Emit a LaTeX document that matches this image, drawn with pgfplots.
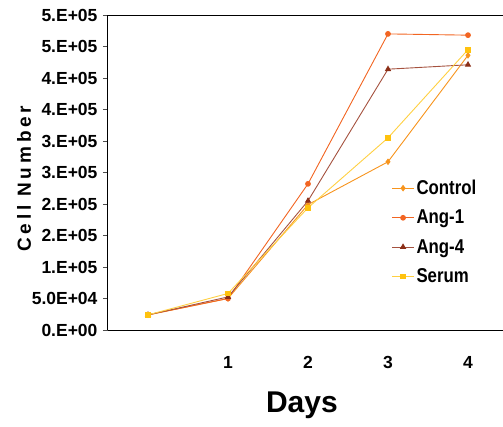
\documentclass[border=0pt]{standalone}
\usepackage{fontspec}
\setmainfont{Liberation Sans}
\usepackage{graphicx}
\usepackage{pgfplots}
\pgfplotsset{compat=1.18}
\definecolor{cctrl}{HTML}{F7941D}
\definecolor{cang1}{HTML}{F26522}
\definecolor{cang4m}{HTML}{8B2E16}
\definecolor{cang4l}{HTML}{A5523F}
\definecolor{cserm}{HTML}{FFC20E}
\definecolor{cserl}{HTML}{FFD042}
\newcommand{\lgtxt}[1]{\scalebox{0.84}[1]{#1}}
\begin{document}
\begin{tikzpicture}
\useasboundingbox (-108pt,-96pt) rectangle (395pt,330pt);
\begin{axis}[
  scale only axis,
  width=395pt, height=315pt,
  xmin=-0.5, xmax=4.4375,
  ymin=0, ymax=500000,
  axis lines=left,
  axis line style={-, black, line width=1pt},
  xtick={1,2,3,4},
  xticklabels={1,2,3,4},
  major x tick style={draw=none},
  ytick={0,50000,100000,150000,200000,250000,300000,350000,400000,450000,500000},
  yticklabels={0.E+00,5.0E+04,1.E+05,2.E+05,2.E+05,3.E+05,3.E+05,4.E+05,4.E+05,5.E+05,5.E+05},
  scaled y ticks=false,
  tick align=outside,
  major tick length=5pt,
  major y tick style={black!70, line width=0.8pt},
  yticklabel style={font=\fontsize{17.5pt}{17.5pt}\selectfont\bfseries, xshift=-2pt},
  xticklabel style={font=\fontsize{17.5pt}{17.5pt}\selectfont\bfseries, yshift=-18pt},
  xlabel={Days},
  xlabel style={font=\fontsize{30pt}{30pt}\selectfont\bfseries, at={(axis description cs:0.491,-0.238)}, anchor=center},
  ylabel={\addfontfeatures{LetterSpace=20}Cell Number},
  ylabel style={font=\fontsize{19pt}{19pt}\selectfont\bfseries, at={(axis description cs:-0.2127,0.48)}, anchor=center},
  legend style={draw=none, fill=none, font=\fontsize{20pt}{20pt}\selectfont\bfseries,
    at={(axis cs:3.005,244500)}, anchor=north west, row sep=10pt,
    legend cell align=left},
  legend image code/.code={\draw[mark repeat=2,mark phase=2] plot coordinates {(0pt,0pt)(11pt,0pt)(22pt,0pt)};},
  every axis plot/.append style={line width=0.9pt},
]
\draw[black, line width=1pt] (rel axis cs:0,1) -- (rel axis cs:1,1);
\addplot[color=cctrl, mark=diamond*, mark size=2.6pt, mark options={fill=cctrl}]
  coordinates {(0,24000) (1,50000) (2,199000) (3,267000) (4,436000)};
\addlegendentry{\lgtxt{Control}}
\addplot[color=cang1, mark=*, mark size=2.4pt, mark options={fill=cang1}]
  coordinates {(0,24000) (1,50000) (2,232000) (3,470000) (4,468000)};
\addlegendentry{\lgtxt{Ang-1}}
\addplot[color=cang4l, mark=triangle*, mark size=2.8pt, mark options={fill=cang4m, draw=cang4m}]
  coordinates {(0,24000) (1,52500) (2,205000) (3,414000) (4,421000)};
\addlegendentry{\lgtxt{Ang-4}}
\addplot[color=cserl, mark=square*, mark size=2.4pt, mark options={fill=cserm, draw=cserm}]
  coordinates {(0,24000) (1,58000) (2,194000) (3,305000) (4,445000)};
\addlegendentry{\lgtxt{Serum}}
\end{axis}
\end{tikzpicture}
\end{document}
